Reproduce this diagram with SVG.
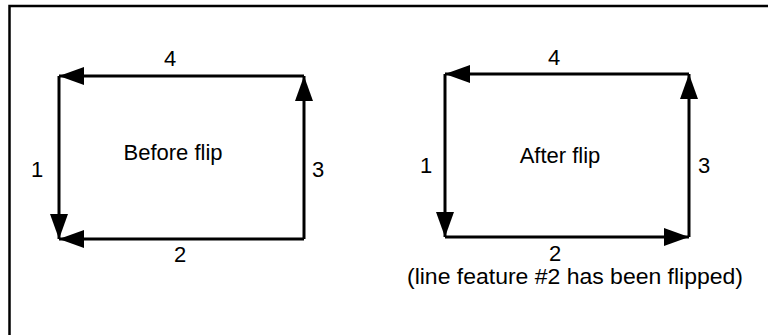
<svg xmlns="http://www.w3.org/2000/svg" width="768" height="335" viewBox="0 0 768 335">
  <style>
    .t { font-family: "Liberation Sans", Arial, sans-serif; font-size: 22px; fill: #000; }
    .c { text-anchor: middle; }
    .ln { stroke: #000; stroke-width: 3; fill: none; marker-end: url(#ah); }
  </style>
  <defs>
    <marker id="ah" markerUnits="userSpaceOnUse" markerWidth="25" markerHeight="18" refX="25" refY="9" orient="auto" viewBox="0 0 25 18">
      <path d="M0,0 L25,9 L0,18 z" fill="#000"/>
    </marker>
  </defs>
  <rect width="768" height="335" fill="#fff"/>
  <path id="frame" d="M9.5,340 L9.5,6 L775,6" stroke="#000" stroke-width="2.5" fill="none"/>

  <g id="before">
    <text class="t c" x="173" y="160">Before flip</text>
    <text class="t c" x="170" y="66">4</text>
    <text class="t c" x="37" y="177">1</text>
    <text class="t c" x="318" y="177">3</text>
    <text class="t c" x="180" y="262">2</text>
  </g>

  <g id="after">
    <text class="t c" x="560" y="163">After flip</text>
    <text class="t c" x="554" y="65">4</text>
    <text class="t c" x="426" y="173">1</text>
    <text class="t c" x="704" y="173">3</text>
    <text class="t c" x="555" y="261">2</text>
    <text class="t c" x="575" y="284" textLength="336" lengthAdjust="spacingAndGlyphs">(line feature #2 has been flipped)</text>
  </g>

  <g id="connectors">
    <line class="ln" x1="304" y1="76" x2="59" y2="76"/>
    <line class="ln" x1="59" y1="76" x2="59" y2="239"/>
    <line class="ln" x1="304" y1="239" x2="59" y2="239"/>
    <line class="ln" x1="304" y1="239" x2="304" y2="76"/>

    <line class="ln" x1="689" y1="74" x2="445" y2="74"/>
    <line class="ln" x1="445" y1="74" x2="445" y2="237"/>
    <line class="ln" x1="445" y1="237" x2="689" y2="237"/>
    <line class="ln" x1="689" y1="237" x2="689" y2="74"/>
  </g>
</svg>
